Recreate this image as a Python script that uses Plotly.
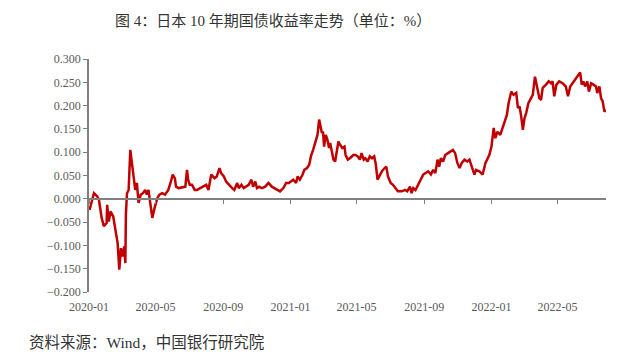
import plotly.graph_objects as go

dates = [
    "2020-01-02", "2020-01-10", "2020-01-16", "2020-01-19", "2020-01-24", "2020-01-28",
    "2020-02-02", "2020-02-03", "2020-02-06", "2020-02-09", "2020-02-14", "2020-02-17",
    "2020-02-22", "2020-02-25", "2020-02-28", "2020-03-02", "2020-03-05", "2020-03-07",
    "2020-03-08", "2020-03-10", "2020-03-13", "2020-03-16", "2020-03-19", "2020-03-22",
    "2020-03-25", "2020-03-28", "2020-03-31", "2020-04-04", "2020-04-08", "2020-04-12",
    "2020-04-15", "2020-04-18", "2020-04-21", "2020-04-25", "2020-04-29", "2020-05-04",
    "2020-05-08", "2020-05-13", "2020-05-18", "2020-05-24", "2020-05-28", "2020-06-01",
    "2020-06-05", "2020-06-07", "2020-06-12", "2020-06-18", "2020-06-24", "2020-06-27",
    "2020-06-29", "2020-07-02", "2020-07-06", "2020-07-11", "2020-07-15", "2020-07-21",
    "2020-07-27", "2020-08-01", "2020-08-05", "2020-08-10", "2020-08-13", "2020-08-16",
    "2020-08-20", "2020-08-25", "2020-08-28", "2020-09-02", "2020-09-06", "2020-09-11",
    "2020-09-17", "2020-09-21", "2020-09-26", "2020-09-29", "2020-10-04", "2020-10-08",
    "2020-10-12", "2020-10-17", "2020-10-22", "2020-10-25", "2020-10-29", "2020-11-01",
    "2020-11-05", "2020-11-10", "2020-11-16", "2020-11-22", "2020-11-28", "2020-12-03",
    "2020-12-09", "2020-12-13", "2020-12-19", "2020-12-24", "2020-12-29", "2021-01-02",
    "2021-01-06", "2021-01-11", "2021-01-14", "2021-01-18", "2021-01-23", "2021-01-26",
    "2021-01-31", "2021-02-04", "2021-02-07", "2021-02-11", "2021-02-16", "2021-02-19",
    "2021-02-22", "2021-02-24", "2021-02-27", "2021-03-01", "2021-03-03", "2021-03-06",
    "2021-03-09", "2021-03-12", "2021-03-14", "2021-03-17", "2021-03-20", "2021-03-23",
    "2021-03-26", "2021-03-29", "2021-04-01", "2021-04-05", "2021-04-09", "2021-04-11",
    "2021-04-15", "2021-04-19", "2021-04-25", "2021-04-29", "2021-05-03", "2021-05-07",
    "2021-05-10", "2021-05-14", "2021-05-17", "2021-05-21", "2021-05-25", "2021-05-29",
    "2021-06-02", "2021-06-05", "2021-06-08", "2021-06-12", "2021-06-16", "2021-06-21",
    "2021-06-24", "2021-06-27", "2021-07-02", "2021-07-06", "2021-07-11", "2021-07-15",
    "2021-07-22", "2021-07-28", "2021-08-01", "2021-08-06", "2021-08-09", "2021-08-12",
    "2021-08-16", "2021-08-21", "2021-08-26", "2021-08-30", "2021-09-03", "2021-09-08",
    "2021-09-13", "2021-09-17", "2021-09-21", "2021-09-25", "2021-09-28", "2021-10-01",
    "2021-10-05", "2021-10-09", "2021-10-14", "2021-10-19", "2021-10-23", "2021-10-27",
    "2021-10-31", "2021-11-04", "2021-11-08", "2021-11-13", "2021-11-18", "2021-11-22",
    "2021-11-26", "2021-12-01", "2021-12-04", "2021-12-10", "2021-12-16", "2021-12-21",
    "2021-12-24", "2021-12-28", "2022-01-01", "2022-01-05", "2022-01-08", "2022-01-12",
    "2022-01-17", "2022-01-21", "2022-01-25", "2022-01-29", "2022-02-01", "2022-02-06",
    "2022-02-10", "2022-02-15", "2022-02-18", "2022-02-21", "2022-02-24", "2022-02-27",
    "2022-03-02", "2022-03-05", "2022-03-09", "2022-03-13", "2022-03-17", "2022-03-21",
    "2022-03-25", "2022-03-29", "2022-04-01", "2022-04-04", "2022-04-10", "2022-04-15",
    "2022-04-19", "2022-04-22", "2022-04-25", "2022-04-29", "2022-05-04", "2022-05-10",
    "2022-05-16", "2022-05-20", "2022-05-24", "2022-05-28", "2022-06-03", "2022-06-11",
    "2022-06-14", "2022-06-17", "2022-06-20", "2022-06-24", "2022-06-27", "2022-07-01",
    "2022-07-05", "2022-07-10", "2022-07-12", "2022-07-16", "2022-07-19", "2022-07-22",
    "2022-07-25", "2022-07-28",
]

yields = [
    -0.024, 0.012, 0.005, -0.002, -0.041, -0.059,
    -0.052, -0.013, -0.049, -0.027, -0.038, -0.059,
    -0.095, -0.152, -0.106, -0.124, -0.102, -0.138,
    -0.034, 0.012, 0.019, 0.105, 0.077, 0.048,
    0.019, 0.034, -0.009, 0.009, 0.012, 0.019,
    0.009, 0.019, -0.006, -0.041, -0.020, 0.001,
    0.009, 0.012, 0.009, 0.019, 0.034, 0.052,
    0.044, 0.026, 0.023, 0.025, 0.026, 0.062,
    0.041, 0.030, 0.030, 0.019, 0.019, 0.023,
    0.026, 0.030, 0.019, 0.052, 0.048, 0.044,
    0.048, 0.066, 0.055, 0.048, 0.037, 0.030,
    0.023, 0.019, 0.034, 0.023, 0.030, 0.023,
    0.026, 0.030, 0.041, 0.026, 0.037, 0.023,
    0.026, 0.023, 0.026, 0.034, 0.026, 0.023,
    0.019, 0.016, 0.023, 0.034, 0.034, 0.037,
    0.041, 0.034, 0.048, 0.041, 0.052, 0.062,
    0.066, 0.073, 0.091, 0.105, 0.123, 0.137,
    0.170, 0.155, 0.141, 0.144, 0.112, 0.137,
    0.127, 0.109, 0.120, 0.102, 0.084, 0.080,
    0.098, 0.123, 0.116, 0.109, 0.112, 0.094,
    0.084, 0.087, 0.094, 0.094, 0.091, 0.084,
    0.098, 0.084, 0.087, 0.080, 0.091, 0.087,
    0.091, 0.073, 0.041, 0.052, 0.059, 0.066,
    0.069, 0.048, 0.034, 0.030, 0.023, 0.016,
    0.016, 0.019, 0.016, 0.026, 0.012, 0.023,
    0.019, 0.030, 0.041, 0.052, 0.055, 0.059,
    0.052, 0.062, 0.055, 0.084, 0.069, 0.087,
    0.080, 0.094, 0.098, 0.102, 0.105, 0.098,
    0.077, 0.066, 0.077, 0.084, 0.080, 0.084,
    0.069, 0.052, 0.062, 0.059, 0.052, 0.077,
    0.084, 0.094, 0.112, 0.152, 0.130, 0.144,
    0.137, 0.152, 0.170, 0.180, 0.205, 0.230,
    0.223, 0.227, 0.195, 0.198, 0.177, 0.148,
    0.173, 0.184, 0.205, 0.216, 0.223, 0.262,
    0.238, 0.216, 0.212, 0.238, 0.245, 0.252,
    0.248, 0.252, 0.220, 0.245, 0.252, 0.248,
    0.241, 0.220, 0.241, 0.248, 0.259, 0.271,
    0.245, 0.252, 0.241, 0.252, 0.230, 0.248,
    0.245, 0.241, 0.227, 0.241, 0.216, 0.209,
    0.187, 0.191,
]

y_ticks = [-0.2, -0.15, -0.1, -0.05, 0.0, 0.05, 0.1, 0.15, 0.2, 0.25, 0.3]

title_text = "图 4：日本 10 年期国债收益率走势（单位：%）"
source_text = "资料来源：Wind，中国银行研究院"

x_range = ["2020-01-01", "2022-07-28"]
axis_color = "#808080"
label_color = "#595959"
serif = "Liberation Serif, Times New Roman, Noto Sans CJK SC, serif"

fig = go.Figure()
fig.add_trace(go.Scatter(
    x=dates, y=yields, mode="lines",
    line=dict(color="#C00000", width=2.5),
    showlegend=False,
))
# helper trace so the zero-line axis (xaxis2) renders
fig.add_trace(go.Scatter(
    x=[dates[0]], y=[None], xaxis="x2", yaxis="y",
    mode="lines", showlegend=False, hoverinfo="skip",
))

fig.update_layout(
    width=640, height=360,
    margin=dict(l=89, r=34, t=59, b=68),
    paper_bgcolor="white", plot_bgcolor="white",
    title=dict(
        text=title_text, x=115 / 640, xanchor="left", xref="container",
        y=1 - 21 / 360, yanchor="middle", yref="container",
        font=dict(family=serif, size=15, color="#333333"),
    ),
    xaxis=dict(
        type="date", range=x_range, dtick="M4", tick0="2020-01-01",
        tickformat="%Y-%m", showline=False, ticks="", showgrid=False,
        zeroline=False, tickfont=dict(family=serif, size=12, color=label_color),
        ticklabelstandoff=6,
    ),
    xaxis2=dict(
        type="date", matches="x", overlaying="x", anchor="free", position=0.4,
        dtick="M4", tick0="2020-01-01", showline=True, linecolor=axis_color,
        linewidth=1.5, ticks="outside", ticklen=4, tickcolor=axis_color,
        tickwidth=1, showticklabels=False, showgrid=False, zeroline=False,
    ),
    yaxis=dict(
        range=[-0.2, 0.3], tickvals=y_ticks, tickformat=".3f",
        showline=True, linecolor=axis_color, linewidth=1.5,
        ticks="outside", ticklen=4, tickcolor=axis_color, tickwidth=1,
        showgrid=False, zeroline=False,
        tickfont=dict(family=serif, size=12, color=label_color),
    ),
    annotations=[dict(
        text=source_text, xref="paper", yref="paper",
        x=(27 - 89) / 517, xanchor="left", y=(292 - 342) / 233, yanchor="middle",
        showarrow=False, font=dict(family=serif, size=15.5, color="#333333"),
    )],
)

fig.write_html(
    "out.html",
    config={"displayModeBar": False},
    post_script="document.body.style.margin='0';",
)
